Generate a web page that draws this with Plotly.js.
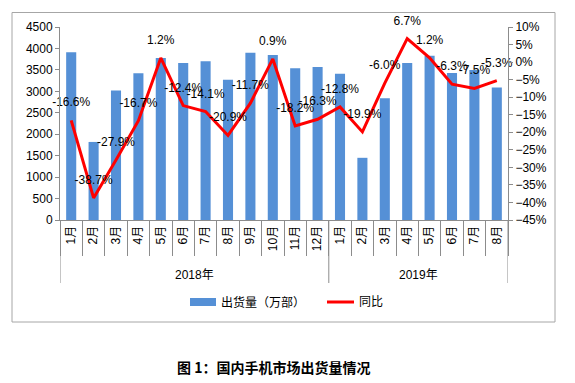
<!DOCTYPE html>
<html>
<head>
<meta charset="utf-8">
<script src="https://cdn.plot.ly/plotly-3.0.1.min.js"></script>
<style>
html,body{margin:0;padding:0;background:#fff;}
#chart{width:575px;height:383px;}
</style>
</head>
<body>
<div id="chart"></div>
<script>
var years = ["2018年", "2019年"];
var months2018 = ["1月","2月","3月","4月","5月","6月","7月","8月","9月","10月","11月","12月"];
var months2019 = ["1月","2月","3月","4月","5月","6月","7月","8月"];
var shipments2018 = [3910, 1820, 3020, 3420, 3780, 3660, 3700, 3270, 3900, 3850, 3540, 3570];
var shipments2019 = [3410, 1450, 2840, 3660, 3830, 3430, 3500, 3090];
var yoy2018 = [-16.6, -38.7, -27.9, -16.7, 1.2, -12.4, -14.1, -20.9, -11.7, 0.9, -18.2, -16.3];
var yoy2019 = [-12.8, -19.9, -6.0, 6.7, 1.2, -6.3, -7.5, -5.3];
var seriesNames = ["出货量（万部）", "同比"];
var chartTitle = "图 1：国内手机市场出货量情况";

var cats = months2018.map(function(m){return years[0]+m;}).concat(months2019.map(function(m){return years[1]+m;}));
var tickText = months2018.concat(months2019);
var shipments = shipments2018.concat(shipments2019);
var yoy = yoy2018.concat(yoy2019);
var yoyText = yoy.map(function(v){return v.toFixed(1)+"%";});

var FONT = "Liberation Sans, Arial, Noto Sans CJK SC, sans-serif";
var GRAY = "#8C8C8C";

// pixel -> paper helpers (plot area: x 60..508, y 27..220)
var L = 60, R = 508, T = 27, B = 220;
function px(x){ return (x - L)/(R - L); }
function py(y){ return (B - y)/(B - T); }

var traces = [
  {
    type: "bar", x: cats, y: shipments, name: seriesNames[0],
    marker: {color: "#5590D6"}, width: 0.45, yaxis: "y", showlegend: false,
    hoverinfo: "x+y"
  },
  {
    type: "scatter", mode: "lines+markers+text", x: cats, y: yoy, name: seriesNames[1],
    yaxis: "y2", line: {color: "#FF0000", width: 3},
    marker: {size: 16, color: "rgba(0,0,0,0)", line: {width: 0}},
    text: yoyText, textposition: "top center",
    textfont: {family: FONT, size: 12, color: "#000"},
    cliponaxis: false, showlegend: false
  }
];

var n1 = months2018.length, n = cats.length;

var shapes = [
  // chart frame
  {type:"rect", xref:"paper", yref:"paper", x0:px(12), x1:px(555), y0:py(322), y1:py(12.5),
   line:{color:"#A6A6A6", width:1}, layer:"below"},
  // group separators
  {type:"line", xref:"x", yref:"paper", x0:-0.5, x1:-0.5, y0:0, y1:py(283), line:{color:GRAY, width:1}},
  {type:"line", xref:"x", yref:"paper", x0:n1-0.5, x1:n1-0.5, y0:0, y1:py(283), line:{color:GRAY, width:1}},
  {type:"line", xref:"x", yref:"paper", x0:n-0.5, x1:n-0.5, y0:0, y1:py(283), line:{color:GRAY, width:1}},
  // legend symbols
  {type:"rect", xref:"paper", yref:"paper", x0:px(190), x1:px(216), y0:py(306), y1:py(298),
   fillcolor:"#5590D6", line:{width:0}},
  {type:"line", xref:"paper", yref:"paper", x0:px(327), x1:px(354), y0:py(302), y1:py(302),
   line:{color:"#FF0000", width:3}}
];

var annotations = [
  {xref:"x", yref:"paper", x:(n1-1)/2, y:py(275), text:years[0], showarrow:false,
   font:{family:FONT, size:12, color:"#000"}, xanchor:"center", yanchor:"middle"},
  {xref:"x", yref:"paper", x:n1+(n-n1-1)/2, y:py(275), text:years[1], showarrow:false,
   font:{family:FONT, size:12, color:"#000"}, xanchor:"center", yanchor:"middle"},
  {xref:"paper", yref:"paper", x:px(219), y:py(302), text:seriesNames[0], showarrow:false,
   font:{family:FONT, size:12, color:"#000"}, xanchor:"left", yanchor:"middle"},
  {xref:"paper", yref:"paper", x:px(357), y:py(302), text:seriesNames[1], showarrow:false,
   font:{family:FONT, size:12, color:"#000"}, xanchor:"left", yanchor:"middle"},
  {xref:"paper", yref:"paper", x:px(175), y:py(367), text:"<b>"+chartTitle+"</b>", showarrow:false,
   font:{family:"Noto Sans CJK SC, sans-serif", size:14, color:"#000"}, xanchor:"left", yanchor:"middle"}
];

var layout = {
  width: 575, height: 383,
  margin: {l: L, r: 575-R, t: T, b: 383-B, pad: 0},
  paper_bgcolor: "#fff", plot_bgcolor: "rgba(0,0,0,0)",
  font: {family: FONT, size: 12, color: "#000"},
  showlegend: false,
  bargap: 0.55,
  xaxis: {
    type: "category", tickvals: cats, ticktext: tickText, tickangle: -90,
    tickson: "boundaries", ticks: "outside", ticklen: 35, tickcolor: GRAY, tickwidth: 1,
    showline: true, linecolor: GRAY, linewidth: 1, showgrid: false, zeroline: false,
    tickfont: {family: FONT, size: 12, color: "#000"}, range: [-0.5, n-0.5]
  },
  yaxis: {
    range: [0, 4500], dtick: 500, tick0: 0, showgrid: false, zeroline: false,
    showline: true, linecolor: GRAY, ticks: "outside", ticklen: 4, tickcolor: GRAY,
    tickfont: {family: FONT, size: 12, color: "#000"}
  },
  yaxis2: {
    overlaying: "y", side: "right", range: [-45, 10], dtick: 5, tick0: 0,
    ticksuffix: "%", showgrid: false, zeroline: false,
    showline: true, linecolor: GRAY, ticks: "outside", ticklen: 4, tickcolor: GRAY,
    tickfont: {family: FONT, size: 12, color: "#000"}
  },
  shapes: shapes,
  annotations: annotations
};

Plotly.newPlot("chart", traces, layout, {displayModeBar: false, staticPlot: true});
</script>
</body>
</html>
